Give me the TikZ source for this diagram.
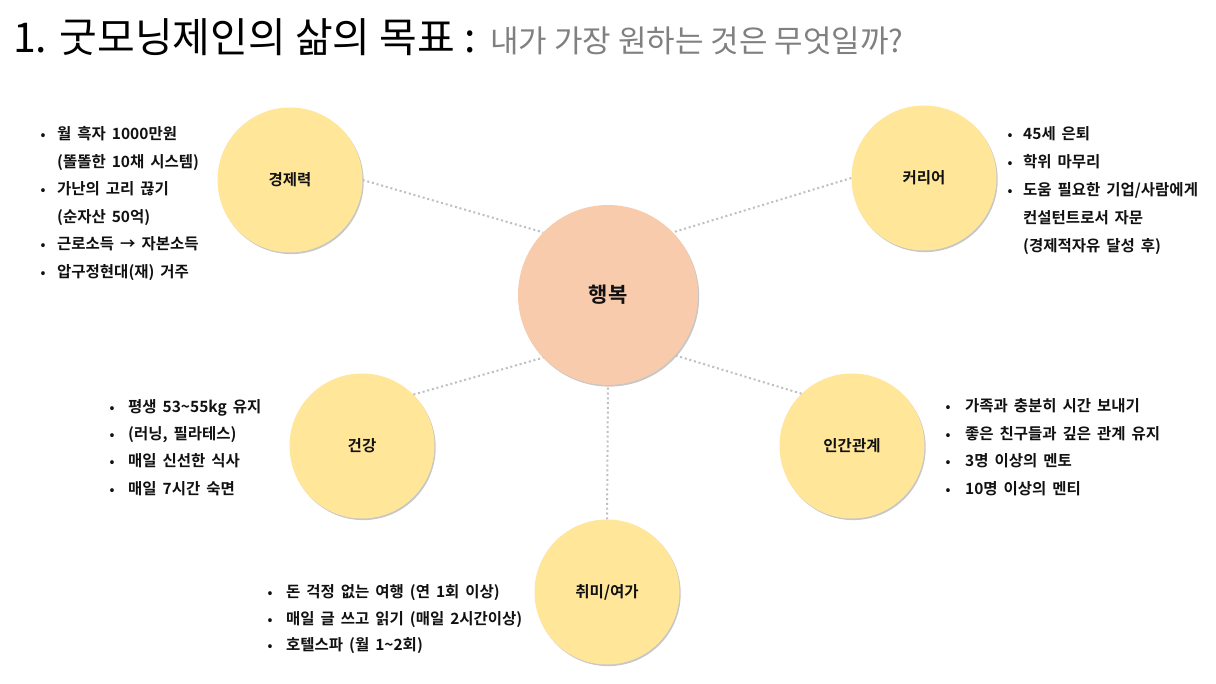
\documentclass[tikz,border=0pt]{standalone}
\usepackage{fontspec}
\setmainfont{Noto Sans CJK KR}
\newfontfamily\titlefont[WordSpace=1.3]{Noto Sans CJK KR}
\newfontfamily\subfont{Noto Sans CJK KR}
\newfontfamily\bodyfont[WordSpace=1.7]{Noto Sans CJK KR Bold}
\usetikzlibrary{shadows}
\definecolor{satfill}{HTML}{FFE699}
\definecolor{hubfill}{HTML}{F8CBAD}
\definecolor{linkgray}{HTML}{BFBFBF}
\definecolor{subgray}{HTML}{808080}
\definecolor{txt}{HTML}{111111}
\tikzset{
  shadowed/.style={drop shadow={shadow xshift=1.2pt, shadow yshift=-1.6pt, fill=black, opacity=0.22}},
  sat/.style={circle, fill=satfill, minimum size=145pt, inner sep=0pt, shadowed,
    text=txt, font=\bodyfont\fontsize{15.5}{18}\selectfont},
  hub/.style={circle, fill=hubfill, minimum size=180pt, inner sep=0pt, shadowed,
    text=txt, font=\bodyfont\fontsize{21}{25}\selectfont},
  link/.style={draw=linkgray, line width=2pt, dash pattern=on 2pt off 2.8pt},
  item/.style={anchor=base west, inner sep=0pt, text=txt, font=\bodyfont\fontsize{15.5}{18}\selectfont},
  bul/.style={anchor=base, inner sep=0pt, text=txt, font=\bodyfont\fontsize{13}{15}\selectfont},
}
\newcommand\itm[5]{\node[bul] (#1b) at (#2,#4+5) {•}; \node[item] (#1) at (#3,#4+5) {#5};}
\newcommand\cnt[4]{\node[item] (#1) at (#2,#3+5) {#4};}
\begin{document}
\begin{tikzpicture}[x=1pt,y=-1pt]
\fill[white] (0,0) rectangle (1216,684);
\useasboundingbox (0,0) rectangle (1216,684);

% title
\node[anchor=base west, inner sep=0pt, text=black, font=\titlefont\fontsize{41}{48}\selectfont] (title) at (13,53) {1. 굿모닝제인의 삶의 목표 :};
\node[anchor=base west, inner sep=0pt, text=subgray, font=\subfont\fontsize{31}{36}\selectfont] (sub) at (490,53) {내가 가장 원하는 것은 무엇일까?};

% circles
\node[hub] (hb) at (608,295) {행복};
\node[sat] (gj) at (290,180) {경제력};
\node[sat] (kr) at (924,178) {커리어};
\node[sat] (gg) at (362,446) {건강};
\node[sat] (ig) at (852,446) {인간관계};
\node[sat] (cm) at (607,592) {취미/여가};

% connectors
\draw[link] (gj.east) -- (hb.136);
\draw[link] (kr.west) -- (hb.44);
\draw[link] (gg.45) -- (hb.224);
\draw[link] (ig.134) -- (hb.318);
\draw[link] (cm.north) -- (hb.south);

% economy
\itm{e1}{43}{57}{135}{월 흑자 1000만원}
\cnt{e2}{57}{163}{(똘똘한 10채 시스템)}
\itm{e3}{43}{57}{190}{가난의 고리 끊기}
\cnt{e4}{57}{218}{(순자산 50억)}
\itm{e5}{43}{57}{245}{근로소득 → 자본소득}
\itm{e6}{43}{57}{273}{압구정현대(재) 거주}

% career
\itm{c1}{1010}{1023}{135}{45세 은퇴}
\itm{c2}{1010}{1023}{163}{학위 마무리}
\itm{c3}{1010}{1023}{191}{도움 필요한 기업/사람에게}
\cnt{c4}{1023}{219}{컨설턴트로서 자문}
\cnt{c5}{1023}{247}{(경제적자유 달성 후)}

% health
\itm{h1}{112}{128}{408}{평생 53\textasciitilde55kg 유지}
\itm{h2}{112}{128}{435}{(러닝, 필라테스)}
\itm{h3}{112}{128}{462}{매일 신선한 식사}
\itm{h4}{112}{128}{489}{매일 7시간 숙면}

% relations
\itm{r1}{948}{965}{407}{가족과 충분히 시간 보내기}
\itm{r2}{948}{965}{435}{좋은 친구들과 깊은 관계 유지}
\itm{r3}{948}{965}{462}{3명 이상의 멘토}
\itm{r4}{948}{965}{489}{10명 이상의 멘티}

% hobby
\itm{f1}{270}{286}{592}{돈 걱정 없는 여행 (연 1회 이상)}
\itm{f2}{270}{286}{619}{매일 글 쓰고 읽기 (매일 2시간이상)}
\itm{f3}{270}{286}{645}{호텔스파 (월 1\textasciitilde2회)}
\end{tikzpicture}
\end{document}
